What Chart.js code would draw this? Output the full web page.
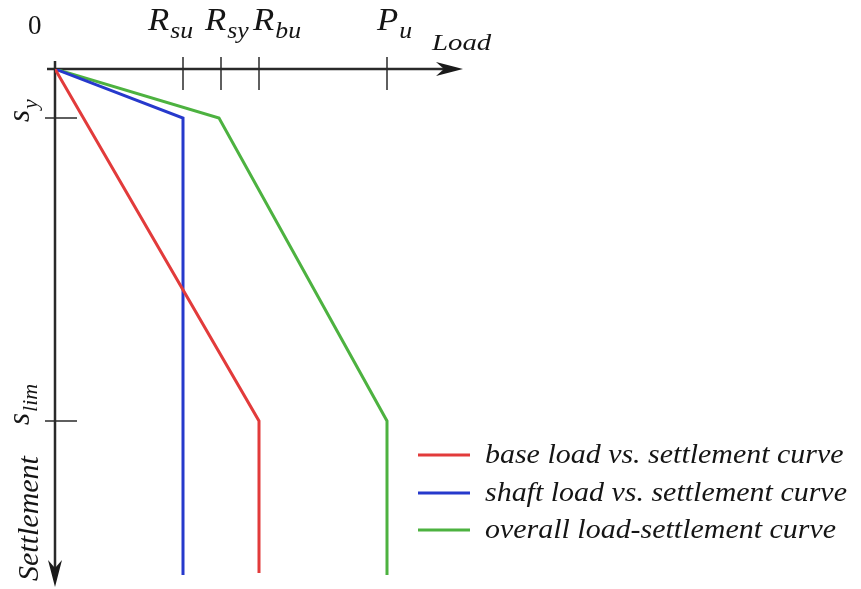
<!DOCTYPE html>
<html>
<head>
<meta charset="utf-8">
<script src="https://cdn.jsdelivr.net/npm/chart.js@4"></script>
<style>
  body { margin: 0; background: #fff; }
  canvas { display: block; }
</style>
</head>
<body>
<canvas id="chart" width="861" height="589"></canvas>
<script>
// load values (x) and settlement values (y, downward)
const loadTicks = [1.28, 1.66, 2.04, 3.32];
const loadTickMain = ['R', 'R', 'R', 'P'];
const loadTickSub = ['su', 'sy', 'bu', 'u'];
const settleTicks = [0.49, 3.52];
const settleTickSub = ['y', 'lim'];

const baseLoad = [0, 2.04, 2.04];
const baseSettle = [0, 3.52, 5.04];
const shaftLoad = [0, 1.28, 1.28];
const shaftSettle = [0, 0.49, 5.06];
const overallLoad = [0, 1.64, 3.32, 3.32];
const overallSettle = [0, 0.49, 3.52, 5.06];

const seriesNames = ['base load vs. settlement curve', 'shaft load vs. settlement curve', 'overall load-settlement curve'];
const seriesColors = ['#e23b3b', '#2639cc', '#4db240'];

function pts(xs, ys) {
  return xs.map((x, i) => ({x: x, y: ys[i]}));
}

const INK = '#151515';

function subText(ctx, main, sub, x, y, size, subSize, drop, sx) {
  ctx.save();
  ctx.translate(x, y);
  ctx.scale(sx || 1, 1);
  ctx.font = 'italic ' + size + 'px "Liberation Serif"';
  ctx.fillText(main, 0, 0);
  const w = ctx.measureText(main).width;
  ctx.font = 'italic ' + subSize + 'px "Liberation Serif"';
  ctx.fillText(sub, w + 1, drop);
  ctx.restore();
}

const axesPlugin = {
  id: 'axes',
  beforeDatasetsDraw(chart) {
    const ctx = chart.ctx;
    const xs = chart.scales.x, ys = chart.scales.y;
    const ox = xs.getPixelForValue(0), oy = ys.getPixelForValue(0);
    ctx.save();
    ctx.strokeStyle = '#2a2a2a';
    ctx.fillStyle = '#1a1a1a';
    ctx.lineWidth = 2.5;
    // x axis
    ctx.beginPath();
    ctx.moveTo(ox - 8, oy);
    ctx.lineTo(448, oy);
    ctx.stroke();
    ctx.beginPath();
    ctx.moveTo(463, oy);
    ctx.lineTo(436, oy - 7);
    ctx.lineTo(444, oy);
    ctx.lineTo(436, oy + 7);
    ctx.closePath();
    ctx.fill();
    // y axis
    ctx.beginPath();
    ctx.moveTo(ox, oy - 8);
    ctx.lineTo(ox, 572);
    ctx.stroke();
    ctx.beginPath();
    ctx.moveTo(ox, 587);
    ctx.lineTo(ox - 7, 560);
    ctx.lineTo(ox, 568);
    ctx.lineTo(ox + 7, 560);
    ctx.closePath();
    ctx.fill();
    // ticks
    ctx.lineWidth = 1.5;
    loadTicks.forEach(v => {
      const px = xs.getPixelForValue(v);
      ctx.beginPath();
      ctx.moveTo(px, oy - 12);
      ctx.lineTo(px, oy + 21);
      ctx.stroke();
    });
    settleTicks.forEach(v => {
      const py = ys.getPixelForValue(v);
      ctx.beginPath();
      ctx.moveTo(ox - 10, py);
      ctx.lineTo(ox + 22, py);
      ctx.stroke();
    });
    ctx.restore();
  },
  afterDraw(chart) {
    const ctx = chart.ctx;
    const xs = chart.scales.x, ys = chart.scales.y;
    ctx.save();
    ctx.fillStyle = INK;
    ctx.textBaseline = 'alphabetic';
    ctx.textAlign = 'left';
    // origin label
    ctx.font = '27px "Liberation Serif"';
    ctx.fillText('0', 28, 34);
    // load tick labels
    const shift = [-35, -16, -6, -10];
    loadTicks.forEach((v, i) => {
      const px = xs.getPixelForValue(v);
      subText(ctx, loadTickMain[i], loadTickSub[i], px + shift[i], 30, 31, 23, 8, 1.12);
    });
    // Load axis title
    ctx.save();
    ctx.translate(432, 50);
    ctx.scale(1.2, 1);
    ctx.font = 'italic 24px "Liberation Serif"';
    ctx.fillText('Load', 0, 0);
    ctx.restore();
    // settlement tick labels (rotated)
    settleTicks.forEach((v, i) => {
      const py = ys.getPixelForValue(v);
      ctx.save();
      ctx.translate(29, py + 4);
      ctx.rotate(-Math.PI / 2);
      subText(ctx, 's', settleTickSub[i], 0, 0, 31, 22, 8, 1);
      ctx.restore();
    });
    // Settlement axis title
    ctx.save();
    ctx.translate(38, 581);
    ctx.rotate(-Math.PI / 2);
    ctx.font = 'italic 30px "Liberation Serif"';
    ctx.fillText('Settlement', 0, 0);
    ctx.restore();
    // legend
    const rows = [455, 493, 530];
    seriesNames.forEach((name, i) => {
      ctx.strokeStyle = seriesColors[i];
      ctx.lineWidth = 3;
      ctx.beginPath();
      ctx.moveTo(418, rows[i]);
      ctx.lineTo(470, rows[i]);
      ctx.stroke();
      ctx.save();
      ctx.translate(485, rows[i] + 8);
      ctx.scale(1.07, 1);
      ctx.font = 'italic 28px "Liberation Serif"';
      ctx.fillStyle = INK;
      ctx.fillText(name, 0, 0);
      ctx.restore();
    });
    ctx.restore();
  }
};

new Chart(document.getElementById('chart'), {
  type: 'scatter',
  data: {
    datasets: [
      {label: seriesNames[0], data: pts(baseLoad, baseSettle), borderColor: seriesColors[0]},
      {label: seriesNames[1], data: pts(shaftLoad, shaftSettle), borderColor: seriesColors[1]},
      {label: seriesNames[2], data: pts(overallLoad, overallSettle), borderColor: seriesColors[2]}
    ].map(d => Object.assign(d, {showLine: true, pointRadius: 0, borderWidth: 3, fill: false, tension: 0}))
  },
  options: {
    responsive: false,
    animation: false,
    layout: {padding: {left: 55, top: 69, right: 0, bottom: 0}},
    scales: {
      x: {type: 'linear', min: 0, max: 8.06, display: false},
      y: {type: 'linear', min: 0, max: 5.2, reverse: true, display: false}
    },
    plugins: {
      legend: {display: false},
      tooltip: {enabled: false}
    }
  },
  plugins: [axesPlugin]
});
</script>
</body>
</html>
